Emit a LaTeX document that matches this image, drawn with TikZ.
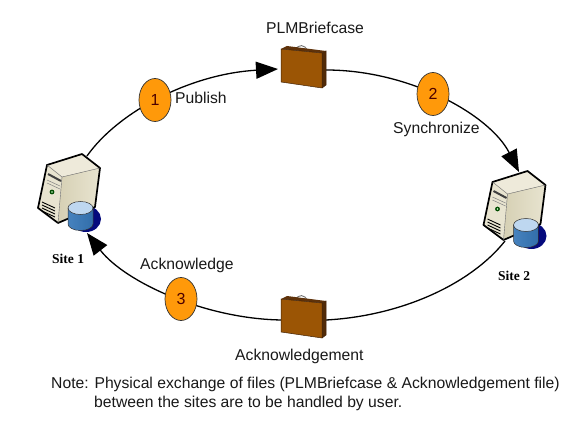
\documentclass[tikz,border=0pt]{standalone}
\usepackage{fontspec}
\setmainfont{Liberation Sans}
\newfontfamily\serifb{Liberation Serif}
\usetikzlibrary{arrows.meta,shapes.geometric}
\definecolor{ordisk}{RGB}{255,153,10}
\definecolor{brf}{RGB}{155,85,5}
\definecolor{brfd}{RGB}{95,50,10}
\definecolor{srvtop}{RGB}{238,234,218}
\definecolor{srvfront}{RGB}{232,228,208}
\definecolor{srvside}{RGB}{214,208,180}
\definecolor{dskl}{RGB}{70,130,190}
\definecolor{dskm}{RGB}{195,228,245}
\definecolor{dskr}{RGB}{50,110,170}
\definecolor{dskt}{RGB}{190,215,240}
\definecolor{dsks}{RGB}{5,10,125}
\tikzset{
 x=1pt,y=-1pt,
 stepnum/.style={ellipse,draw=black!80,fill=ordisk,line width=.7pt,minimum width=32pt,minimum height=43pt,inner sep=0pt,text=black!70!red,font=\fontsize{16}{16}\selectfont},
 lab/.style={inner sep=0pt,text=black!90,font=\fontsize{15.7}{18}\selectfont},
 sitelab/.style={inner sep=0pt,font=\serifb\bfseries\fontsize{13.5}{15}\selectfont},
 conn/.style={draw=black,line width=1.3pt},
 tip/.style={-{Triangle[length=22pt,width=17pt]}},
}
\newcommand{\briefcase}[2]{%
 \begin{scope}[shift={(#1,#2)}]
  \draw[line width=.9pt,draw=black!55] (296,50) .. controls (297,44) and (306,44) .. (307,51);
  \fill[brf] (281,49) -- (322,53) -- (322,88) -- (281,82) -- cycle;
  \fill[brfd] (281,49) -- (287,46) -- (326,51) -- (322,53) -- cycle;
  \fill[brfd!85!black] (322,53) -- (326,51) -- (326,85) -- (322,88) -- cycle;
  \draw[brfd!70!black,line width=.5pt] (281,49) -- (322,53) -- (322,88) -- (281,82) -- cycle (322,53) -- (326,51) -- (326,85) -- (322,88);
 \end{scope}}
\newcommand{\serverpic}[2]{%
 \begin{scope}[shift={(#1,#2)}]
  \fill[dsks] (86,219) ellipse (15 and 13);
  \fill[srvtop] (47,165) -- (82,154) -- (100,168) -- (62,177) -- cycle;
  \shade[left color=srvside,right color=srvfront] (62,177) -- (100,168) -- (95,207) -- (58,223) -- cycle;
  \fill[srvfront] (47,165) -- (62,177) -- (58,223) -- (38,208) -- cycle;
  \draw[black,line width=1.7pt,line join=round] (47,165) -- (82,154) -- (100,168) -- (95,207) -- (58,223) -- (38,208) -- cycle;
  \draw[black!60,line width=.4pt] (47,165) -- (62,177) -- (58,223) (62,177) -- (100,168);
  \draw[black!75,line width=2pt] (48,174) -- (61,181);
  \draw[black!50,line width=.5pt] (47,180) -- (60,186) (47,183) -- (60,189);
  \fill[green!30!black] (52,192) circle (2.4);
  \fill[white!80!green] (52,192) circle (.9);
  \foreach \d in {0,3,6,9}{\draw[black,line width=.9pt] (42,202+\d) -- (55,208+\d);}
  \shade[left color=dskl,middle color=dskm,right color=dskr] (68,208) -- (68,224) arc[start angle=180,end angle=360,x radius=12.5pt,y radius=6.5pt] -- (93,208) -- cycle;
  \fill[dskt] (80.5,208) ellipse (12.5 and 6.5);
  \draw[black!80,line width=.5pt] (80.5,208) ellipse (12.5 and 6.5);
  \draw[black!80,line width=.5pt] (68,208) -- (68,224) arc[start angle=180,end angle=360,x radius=12.5pt,y radius=6.5pt] -- (93,208);
 \end{scope}}
\begin{document}
\begin{tikzpicture}
\useasboundingbox (0,0) rectangle (588,438);
\fill[white] (0,0) rectangle (588,438);
\coordinate (s1top) at (87,156);
\coordinate (s1bot) at (87,233);
\coordinate (s2top) at (519,172);
\coordinate (s2bot) at (505,241);
\coordinate (b1l) at (278,69);
\coordinate (b1r) at (326,70);
\coordinate (b2l) at (282,320);
\coordinate (b2r) at (326,320);
\draw[conn,tip] (s1top) .. controls (118,112) and (190,74) .. (b1l);
\draw[conn,tip] (b1r) .. controls (410,70) and (490,115) .. (s2top);
\draw[conn] (s2bot) .. controls (470,285) and (400,316) .. (b2r);
\draw[conn,tip] (b2l) .. controls (205,319) and (125,282) .. (s1bot);
\node[stepnum] (n1) at (155,100) {1};
\node[stepnum] (n2) at (433,94) {2};
\node[stepnum] (n3) at (181,299) {3};
\briefcase{0}{0}
\briefcase{0}{250}
\serverpic{0}{0}
\serverpic{445.5}{17}
\node[lab,anchor=west] (t1) at (175,98) {Publish};
\node[lab,anchor=west] (t2) at (393,129) {Synchronize};
\node[lab,anchor=west] (t3) at (140,265) {Acknowledge};
\node[lab,anchor=west] (t4) at (266,28) {PLMBriefcase};
\node[lab,anchor=west] (t5) at (235,356) {Acknowledgement};
\node[sitelab,anchor=west] (s1) at (52,259) {Site 1};
\node[sitelab,anchor=west] (s2) at (498,276) {Site 2};
\node[lab,anchor=west] (n) at (51,384) {Note: Physical exchange of files (PLMBriefcase \& Acknowledgement file)};
\node[lab,anchor=west] (m) at (94,403) {between the sites are to be handled by user.};
\end{tikzpicture}
\end{document}
